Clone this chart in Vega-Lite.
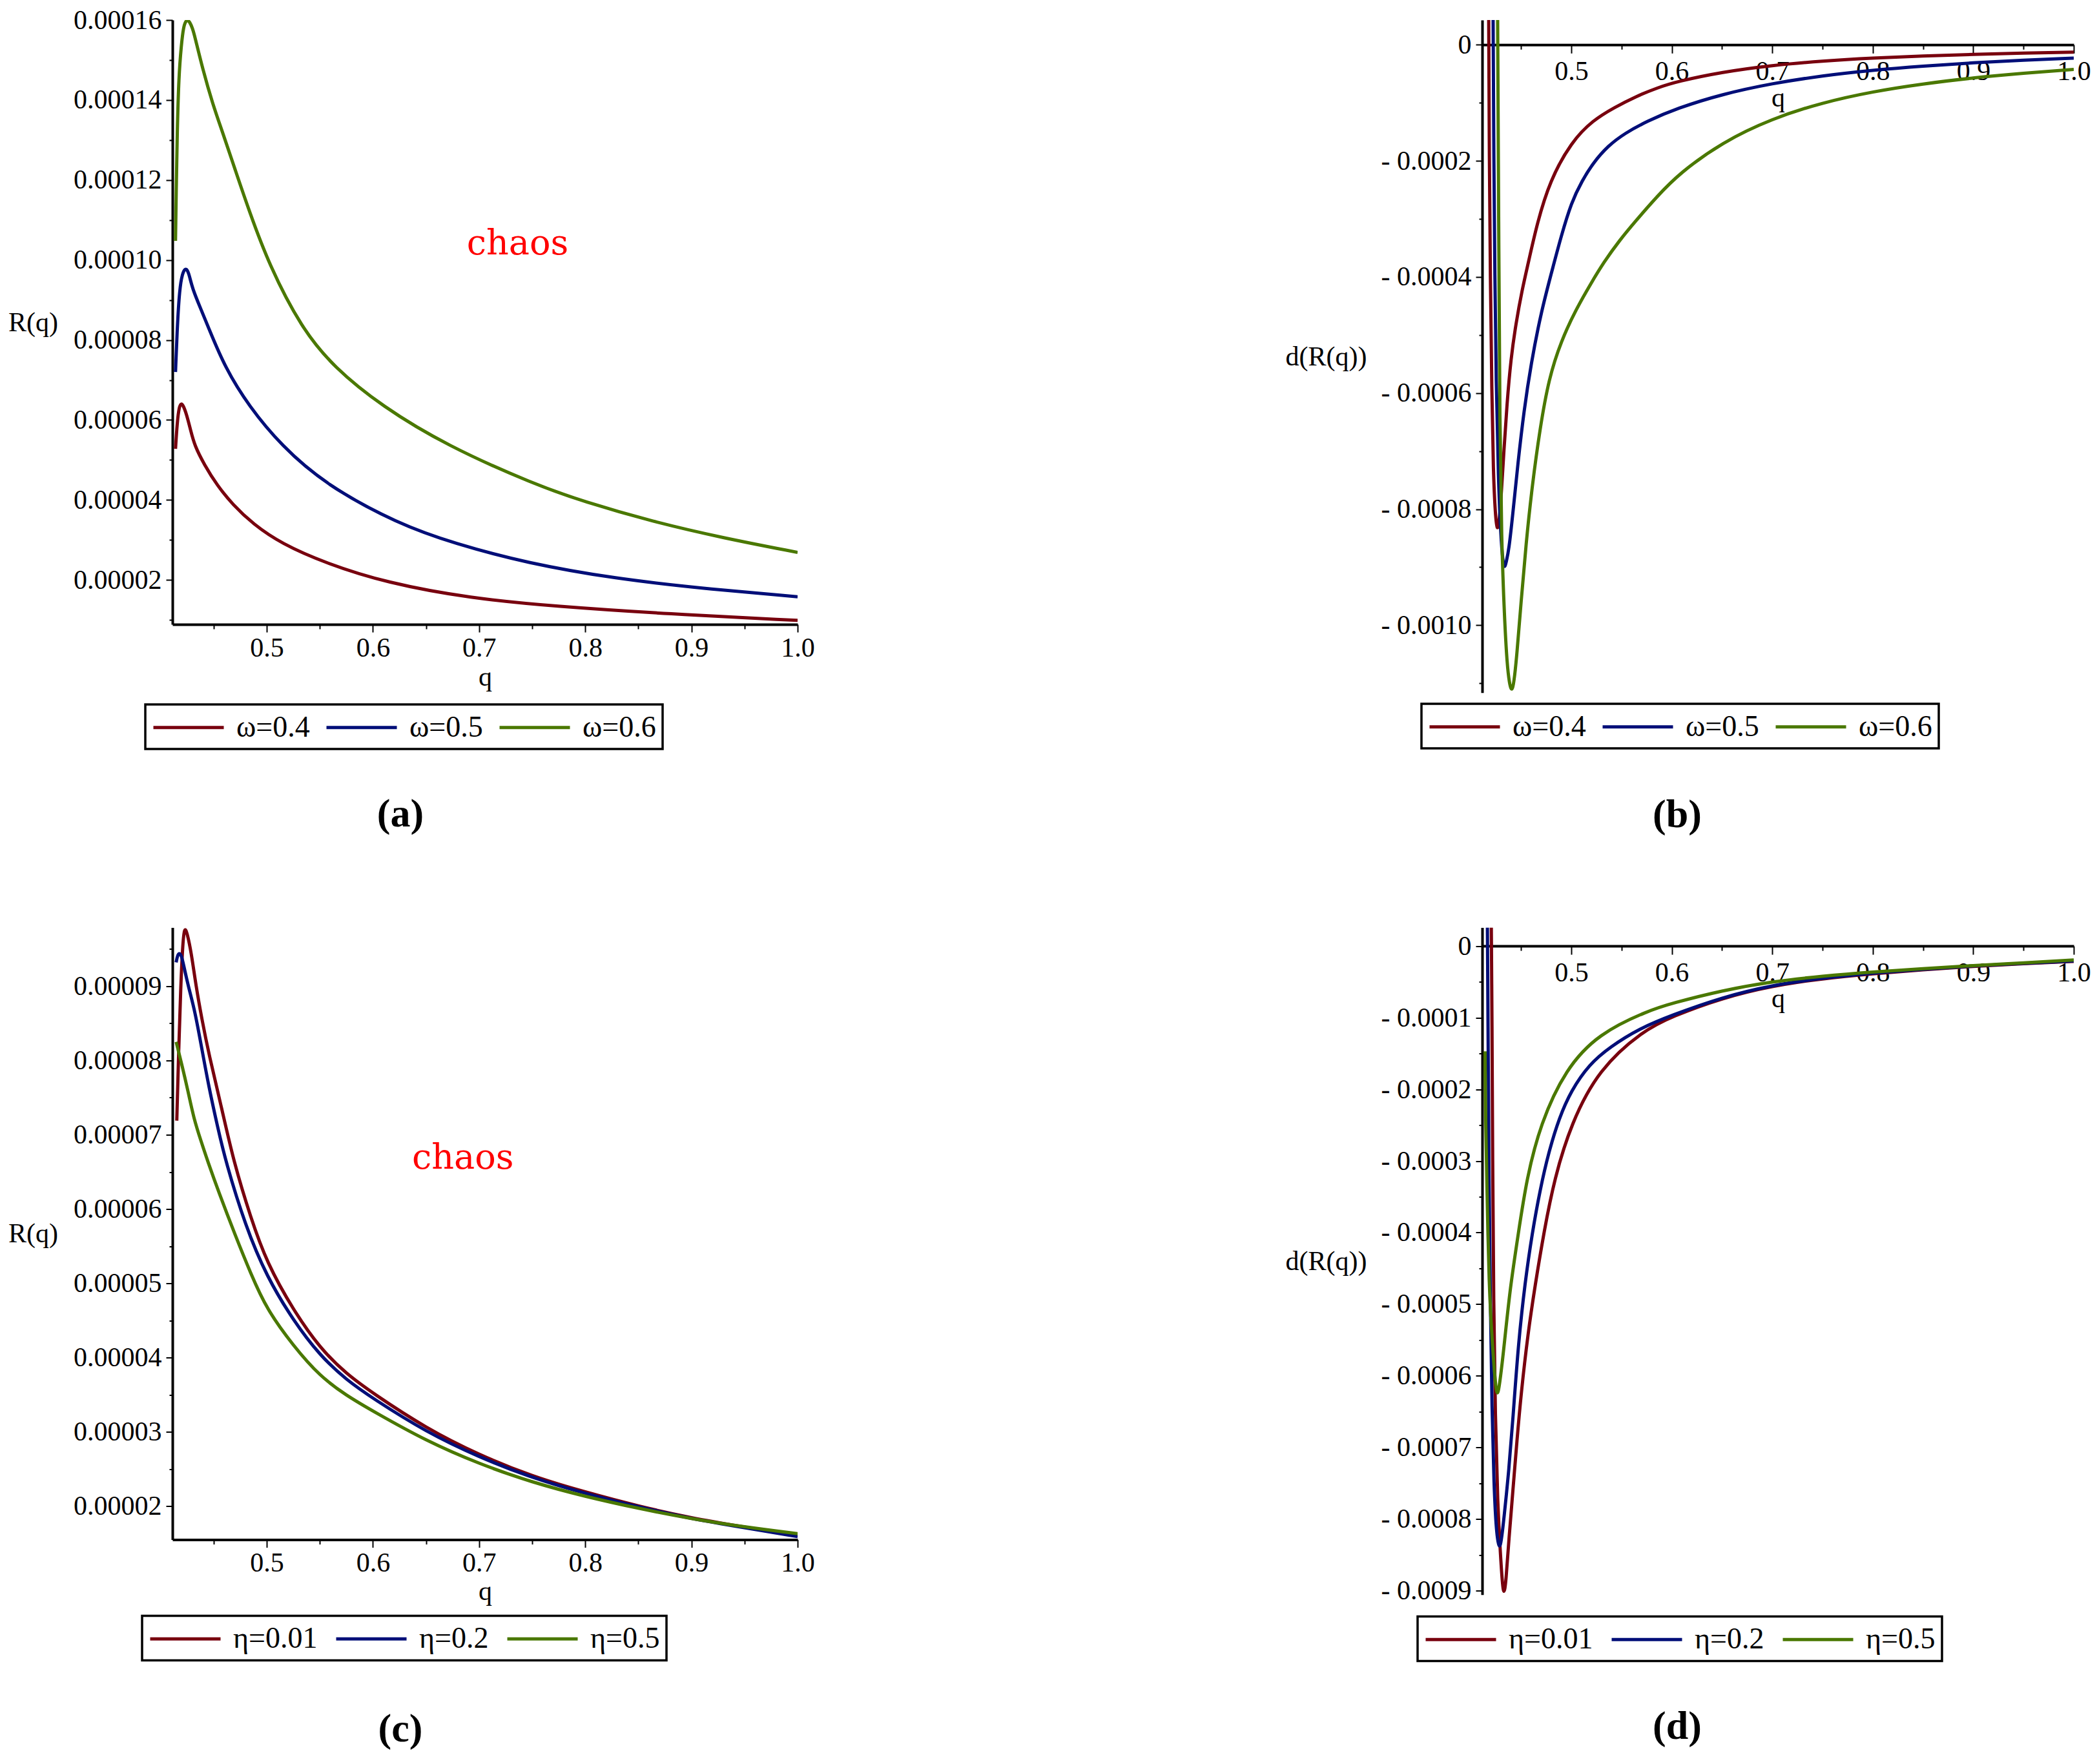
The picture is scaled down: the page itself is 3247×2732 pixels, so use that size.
{
  "$schema": "https://vega.github.io/schema/vega-lite/v6.json",
  "background": "white",
  "padding": {"left": 12, "top": 10, "right": 5, "bottom": 5},
  "datasets": {
    "a": [
      {"q": 0.4141, "v": 0.0000528, "s": "ω=0.4"}, {"q": 0.4157, "v": 0.0000595, "s": "ω=0.4"},
      {"q": 0.4176, "v": 0.0000634, "s": "ω=0.4"}, {"q": 0.4195, "v": 0.0000642, "s": "ω=0.4"},
      {"q": 0.4214, "v": 0.0000636, "s": "ω=0.4"}, {"q": 0.4244, "v": 0.0000615, "s": "ω=0.4"},
      {"q": 0.4282, "v": 0.0000576, "s": "ω=0.4"}, {"q": 0.432, "v": 0.0000536, "s": "ω=0.4"},
      {"q": 0.4415, "v": 0.0000487, "s": "ω=0.4"}, {"q": 0.4529, "v": 0.0000438, "s": "ω=0.4"},
      {"q": 0.4681, "v": 0.0000388, "s": "ω=0.4"}, {"q": 0.4871, "v": 0.000034, "s": "ω=0.4"},
      {"q": 0.5137, "v": 0.0000291, "s": "ω=0.4"}, {"q": 0.5555, "v": 0.0000242, "s": "ω=0.4"},
      {"q": 0.6125, "v": 0.0000193, "s": "ω=0.4"}, {"q": 0.6922, "v": 0.0000154, "s": "ω=0.4"},
      {"q": 0.772, "v": 0.0000134, "s": "ω=0.4"}, {"q": 0.8784, "v": 0.0000115, "s": "ω=0.4"},
      {"q": 1.0, "v": 0.0000099, "s": "ω=0.4"},
      {"q": 0.4141, "v": 0.000072, "s": "ω=0.5"}, {"q": 0.4157, "v": 0.000083, "s": "ω=0.5"},
      {"q": 0.4179, "v": 0.0000928, "s": "ω=0.5"}, {"q": 0.4206, "v": 0.0000967, "s": "ω=0.5"},
      {"q": 0.4233, "v": 0.0000979, "s": "ω=0.5"}, {"q": 0.4252, "v": 0.0000975, "s": "ω=0.5"},
      {"q": 0.4271, "v": 0.0000962, "s": "ω=0.5"}, {"q": 0.4301, "v": 0.0000928, "s": "ω=0.5"},
      {"q": 0.4377, "v": 0.0000879, "s": "ω=0.5"}, {"q": 0.4453, "v": 0.000083, "s": "ω=0.5"},
      {"q": 0.4605, "v": 0.0000732, "s": "ω=0.5"}, {"q": 0.4833, "v": 0.0000634, "s": "ω=0.5"},
      {"q": 0.5137, "v": 0.0000536, "s": "ω=0.5"}, {"q": 0.5555, "v": 0.0000438, "s": "ω=0.5"},
      {"q": 0.6239, "v": 0.000034, "s": "ω=0.5"}, {"q": 0.677, "v": 0.0000291, "s": "ω=0.5"},
      {"q": 0.7454, "v": 0.0000242, "s": "ω=0.5"}, {"q": 0.829, "v": 0.0000203, "s": "ω=0.5"},
      {"q": 0.91, "v": 0.0000179, "s": "ω=0.5"}, {"q": 1.0, "v": 0.0000158, "s": "ω=0.5"},
      {"q": 0.4141, "v": 0.0001048, "s": "ω=0.6"}, {"q": 0.4148, "v": 0.000118, "s": "ω=0.6"},
      {"q": 0.4157, "v": 0.000132, "s": "ω=0.6"}, {"q": 0.4172, "v": 0.000146, "s": "ω=0.6"},
      {"q": 0.4195, "v": 0.0001536, "s": "ω=0.6"}, {"q": 0.4217, "v": 0.0001585, "s": "ω=0.6"},
      {"q": 0.424, "v": 0.0001598, "s": "ω=0.6"}, {"q": 0.4255, "v": 0.00016, "s": "ω=0.6"},
      {"q": 0.4275, "v": 0.0001595, "s": "ω=0.6"}, {"q": 0.43, "v": 0.000158, "s": "ω=0.6"},
      {"q": 0.432, "v": 0.0001562, "s": "ω=0.6"}, {"q": 0.4396, "v": 0.0001478, "s": "ω=0.6"},
      {"q": 0.4491, "v": 0.000139, "s": "ω=0.6"}, {"q": 0.4586, "v": 0.0001318, "s": "ω=0.6"},
      {"q": 0.471, "v": 0.000122, "s": "ω=0.6"}, {"q": 0.4833, "v": 0.0001124, "s": "ω=0.6"},
      {"q": 0.5023, "v": 0.0000987, "s": "ω=0.6"}, {"q": 0.5327, "v": 0.000083, "s": "ω=0.6"},
      {"q": 0.5631, "v": 0.0000732, "s": "ω=0.6"}, {"q": 0.6087, "v": 0.0000634, "s": "ω=0.6"},
      {"q": 0.6695, "v": 0.0000536, "s": "ω=0.6"}, {"q": 0.753, "v": 0.0000438, "s": "ω=0.6"},
      {"q": 0.7986, "v": 0.0000396, "s": "ω=0.6"}, {"q": 0.8632, "v": 0.0000346, "s": "ω=0.6"},
      {"q": 0.93, "v": 0.0000305, "s": "ω=0.6"}, {"q": 1.0, "v": 0.0000269, "s": "ω=0.6"}
    ],
    "b": [
      {"q": 0.4179, "v": 0.0000426, "s": "ω=0.4"}, {"q": 0.4185, "v": -0.0002, "s": "ω=0.4"},
      {"q": 0.4195, "v": -0.0004, "s": "ω=0.4"}, {"q": 0.421, "v": -0.0006, "s": "ω=0.4"},
      {"q": 0.4225, "v": -0.00074, "s": "ω=0.4"}, {"q": 0.4245, "v": -0.00081, "s": "ω=0.4"},
      {"q": 0.4264, "v": -0.00084, "s": "ω=0.4"}, {"q": 0.4285, "v": -0.00082, "s": "ω=0.4"},
      {"q": 0.4306, "v": -0.00077, "s": "ω=0.4"}, {"q": 0.433, "v": -0.0007, "s": "ω=0.4"},
      {"q": 0.436, "v": -0.00062, "s": "ω=0.4"}, {"q": 0.44, "v": -0.00054, "s": "ω=0.4"},
      {"q": 0.445, "v": -0.00048, "s": "ω=0.4"}, {"q": 0.451, "v": -0.000423, "s": "ω=0.4"},
      {"q": 0.4574, "v": -0.000375, "s": "ω=0.4"}, {"q": 0.466, "v": -0.000308, "s": "ω=0.4"},
      {"q": 0.4788, "v": -0.000234, "s": "ω=0.4"}, {"q": 0.5002, "v": -0.000167, "s": "ω=0.4"},
      {"q": 0.5216, "v": -0.00013, "s": "ω=0.4"}, {"q": 0.543, "v": -0.000108, "s": "ω=0.4"},
      {"q": 0.5644, "v": -0.000089, "s": "ω=0.4"}, {"q": 0.5859, "v": -0.000074, "s": "ω=0.4"},
      {"q": 0.6051, "v": -0.0000634, "s": "ω=0.4"}, {"q": 0.65, "v": -0.000047, "s": "ω=0.4"},
      {"q": 0.7, "v": -0.0000354, "s": "ω=0.4"}, {"q": 0.75, "v": -0.000028, "s": "ω=0.4"},
      {"q": 0.8, "v": -0.0000229, "s": "ω=0.4"}, {"q": 0.85, "v": -0.0000192, "s": "ω=0.4"},
      {"q": 0.9, "v": -0.0000165, "s": "ω=0.4"}, {"q": 0.95, "v": -0.0000143, "s": "ω=0.4"},
      {"q": 1.0, "v": -0.0000126, "s": "ω=0.4"},
      {"q": 0.4223, "v": 0.0000426, "s": "ω=0.5"}, {"q": 0.423, "v": -0.0002, "s": "ω=0.5"},
      {"q": 0.424, "v": -0.0004, "s": "ω=0.5"}, {"q": 0.4253, "v": -0.00058, "s": "ω=0.5"},
      {"q": 0.4275, "v": -0.00075, "s": "ω=0.5"}, {"q": 0.43, "v": -0.00085, "s": "ω=0.5"},
      {"q": 0.432, "v": -0.00089, "s": "ω=0.5"}, {"q": 0.4336, "v": -0.000903, "s": "ω=0.5"},
      {"q": 0.4355, "v": -0.00089, "s": "ω=0.5"}, {"q": 0.438, "v": -0.00087, "s": "ω=0.5"},
      {"q": 0.4418, "v": -0.00081, "s": "ω=0.5"}, {"q": 0.447, "v": -0.00072, "s": "ω=0.5"},
      {"q": 0.453, "v": -0.00063, "s": "ω=0.5"}, {"q": 0.46, "v": -0.00055, "s": "ω=0.5"},
      {"q": 0.47, "v": -0.00046, "s": "ω=0.5"}, {"q": 0.4831, "v": -0.000375, "s": "ω=0.5"},
      {"q": 0.4895, "v": -0.000333, "s": "ω=0.5"}, {"q": 0.5002, "v": -0.000271, "s": "ω=0.5"},
      {"q": 0.5109, "v": -0.000234, "s": "ω=0.5"}, {"q": 0.5216, "v": -0.000204, "s": "ω=0.5"},
      {"q": 0.5366, "v": -0.000174, "s": "ω=0.5"}, {"q": 0.5538, "v": -0.000152, "s": "ω=0.5"},
      {"q": 0.5751, "v": -0.000132, "s": "ω=0.5"}, {"q": 0.6051, "v": -0.0001095, "s": "ω=0.5"},
      {"q": 0.65, "v": -0.0000852, "s": "ω=0.5"}, {"q": 0.7, "v": -0.0000665, "s": "ω=0.5"},
      {"q": 0.75, "v": -0.0000533, "s": "ω=0.5"}, {"q": 0.8, "v": -0.0000438, "s": "ω=0.5"},
      {"q": 0.85, "v": -0.0000367, "s": "ω=0.5"}, {"q": 0.9, "v": -0.000031, "s": "ω=0.5"},
      {"q": 0.95, "v": -0.0000265, "s": "ω=0.5"}, {"q": 1.0, "v": -0.000023, "s": "ω=0.5"},
      {"q": 0.4268, "v": 0.0000426, "s": "ω=0.6"}, {"q": 0.4278, "v": -0.0003, "s": "ω=0.6"},
      {"q": 0.429, "v": -0.00067, "s": "ω=0.6"}, {"q": 0.4306, "v": -0.00085, "s": "ω=0.6"},
      {"q": 0.4336, "v": -0.00099, "s": "ω=0.6"}, {"q": 0.4363, "v": -0.00107, "s": "ω=0.6"},
      {"q": 0.4385, "v": -0.0011, "s": "ω=0.6"}, {"q": 0.4407, "v": -0.001115, "s": "ω=0.6"},
      {"q": 0.443, "v": -0.0011, "s": "ω=0.6"}, {"q": 0.446, "v": -0.00105, "s": "ω=0.6"},
      {"q": 0.4501, "v": -0.00096, "s": "ω=0.6"}, {"q": 0.455, "v": -0.00086, "s": "ω=0.6"},
      {"q": 0.4611, "v": -0.00076, "s": "ω=0.6"}, {"q": 0.469, "v": -0.00066, "s": "ω=0.6"},
      {"q": 0.4777, "v": -0.000575, "s": "ω=0.6"}, {"q": 0.49, "v": -0.00051, "s": "ω=0.6"},
      {"q": 0.505, "v": -0.000455, "s": "ω=0.6"}, {"q": 0.52, "v": -0.00041, "s": "ω=0.6"},
      {"q": 0.5323, "v": -0.000375, "s": "ω=0.6"}, {"q": 0.548, "v": -0.000337, "s": "ω=0.6"},
      {"q": 0.5644, "v": -0.000303, "s": "ω=0.6"}, {"q": 0.585, "v": -0.000262, "s": "ω=0.6"},
      {"q": 0.6073, "v": -0.000222, "s": "ω=0.6"}, {"q": 0.65, "v": -0.000168, "s": "ω=0.6"},
      {"q": 0.7, "v": -0.000127, "s": "ω=0.6"}, {"q": 0.75, "v": -0.0000995, "s": "ω=0.6"},
      {"q": 0.8, "v": -0.0000806, "s": "ω=0.6"}, {"q": 0.85, "v": -0.0000672, "s": "ω=0.6"},
      {"q": 0.9, "v": -0.0000569, "s": "ω=0.6"}, {"q": 0.95, "v": -0.0000489, "s": "ω=0.6"},
      {"q": 1.0, "v": -0.0000426, "s": "ω=0.6"}
    ],
    "c": [
      {"q": 0.4153, "v": 0.0000719, "s": "η=0.01"}, {"q": 0.417, "v": 0.000081, "s": "η=0.01"},
      {"q": 0.419, "v": 0.00009, "s": "η=0.01"}, {"q": 0.421, "v": 0.000096, "s": "η=0.01"},
      {"q": 0.4227, "v": 0.000098, "s": "η=0.01"}, {"q": 0.425, "v": 0.0000972, "s": "η=0.01"},
      {"q": 0.429, "v": 0.0000945, "s": "η=0.01"}, {"q": 0.4333, "v": 0.0000901, "s": "η=0.01"},
      {"q": 0.439, "v": 0.0000855, "s": "η=0.01"}, {"q": 0.4454, "v": 0.0000809, "s": "η=0.01"},
      {"q": 0.4576, "v": 0.0000736, "s": "η=0.01"}, {"q": 0.4688, "v": 0.0000664, "s": "η=0.01"},
      {"q": 0.485, "v": 0.0000588, "s": "η=0.01"}, {"q": 0.5, "v": 0.0000528, "s": "η=0.01"},
      {"q": 0.525, "v": 0.0000464, "s": "η=0.01"}, {"q": 0.55, "v": 0.0000413, "s": "η=0.01"},
      {"q": 0.575, "v": 0.0000378, "s": "η=0.01"}, {"q": 0.6, "v": 0.0000352, "s": "η=0.01"},
      {"q": 0.65, "v": 0.0000305, "s": "η=0.01"}, {"q": 0.7, "v": 0.0000269, "s": "η=0.01"},
      {"q": 0.75, "v": 0.000024, "s": "η=0.01"}, {"q": 0.8, "v": 0.0000219, "s": "η=0.01"},
      {"q": 0.85, "v": 0.00002, "s": "η=0.01"}, {"q": 0.9, "v": 0.0000184, "s": "η=0.01"},
      {"q": 0.95, "v": 0.0000172, "s": "η=0.01"}, {"q": 1.0, "v": 0.000016, "s": "η=0.01"},
      {"q": 0.4147, "v": 0.0000932, "s": "η=0.2"}, {"q": 0.416, "v": 0.0000942, "s": "η=0.2"},
      {"q": 0.4181, "v": 0.0000945, "s": "η=0.2"}, {"q": 0.42, "v": 0.000094, "s": "η=0.2"},
      {"q": 0.423, "v": 0.000092, "s": "η=0.2"}, {"q": 0.427, "v": 0.0000895, "s": "η=0.2"},
      {"q": 0.4323, "v": 0.0000867, "s": "η=0.2"}, {"q": 0.439, "v": 0.0000815, "s": "η=0.2"},
      {"q": 0.4454, "v": 0.0000765, "s": "η=0.2"}, {"q": 0.4535, "v": 0.0000712, "s": "η=0.2"},
      {"q": 0.4613, "v": 0.0000664, "s": "η=0.2"}, {"q": 0.48, "v": 0.0000577, "s": "η=0.2"},
      {"q": 0.5, "v": 0.0000509, "s": "η=0.2"}, {"q": 0.525, "v": 0.000045, "s": "η=0.2"},
      {"q": 0.55, "v": 0.0000403, "s": "η=0.2"}, {"q": 0.575, "v": 0.000037, "s": "η=0.2"},
      {"q": 0.6, "v": 0.0000345, "s": "η=0.2"}, {"q": 0.65, "v": 0.00003, "s": "η=0.2"},
      {"q": 0.7, "v": 0.0000266, "s": "η=0.2"}, {"q": 0.75, "v": 0.0000238, "s": "η=0.2"},
      {"q": 0.8, "v": 0.0000217, "s": "η=0.2"}, {"q": 0.85, "v": 0.0000199, "s": "η=0.2"},
      {"q": 0.9, "v": 0.0000183, "s": "η=0.2"}, {"q": 0.95, "v": 0.0000171, "s": "η=0.2"},
      {"q": 1.0, "v": 0.0000159, "s": "η=0.2"},
      {"q": 0.4147, "v": 0.0000825, "s": "η=0.5"}, {"q": 0.42, "v": 0.0000795, "s": "η=0.5"},
      {"q": 0.426, "v": 0.0000758, "s": "η=0.5"}, {"q": 0.4313, "v": 0.0000722, "s": "η=0.5"},
      {"q": 0.438, "v": 0.0000692, "s": "η=0.5"}, {"q": 0.4445, "v": 0.0000664, "s": "η=0.5"},
      {"q": 0.455, "v": 0.0000622, "s": "η=0.5"}, {"q": 0.47, "v": 0.0000566, "s": "η=0.5"},
      {"q": 0.485, "v": 0.0000513, "s": "η=0.5"}, {"q": 0.5, "v": 0.0000465, "s": "η=0.5"},
      {"q": 0.525, "v": 0.0000416, "s": "η=0.5"}, {"q": 0.55, "v": 0.0000375, "s": "η=0.5"},
      {"q": 0.575, "v": 0.0000349, "s": "η=0.5"}, {"q": 0.6, "v": 0.0000328, "s": "η=0.5"},
      {"q": 0.65, "v": 0.0000288, "s": "η=0.5"}, {"q": 0.7, "v": 0.0000257, "s": "η=0.5"},
      {"q": 0.75, "v": 0.0000232, "s": "η=0.5"}, {"q": 0.8, "v": 0.0000213, "s": "η=0.5"},
      {"q": 0.85, "v": 0.0000197, "s": "η=0.5"}, {"q": 0.9, "v": 0.0000183, "s": "η=0.5"},
      {"q": 0.95, "v": 0.0000172, "s": "η=0.5"}, {"q": 1.0, "v": 0.0000163, "s": "η=0.5"}
    ],
    "d": [
      {"q": 0.4205, "v": 0.0000258, "s": "η=0.01"}, {"q": 0.4212, "v": -0.0001, "s": "η=0.01"},
      {"q": 0.4218, "v": -0.0003, "s": "η=0.01"}, {"q": 0.4228, "v": -0.0005, "s": "η=0.01"},
      {"q": 0.4245, "v": -0.00066, "s": "η=0.01"}, {"q": 0.4268, "v": -0.00078, "s": "η=0.01"},
      {"q": 0.4296, "v": -0.00085, "s": "η=0.01"}, {"q": 0.4315, "v": -0.00089, "s": "η=0.01"},
      {"q": 0.433, "v": -0.000906, "s": "η=0.01"}, {"q": 0.435, "v": -0.00089, "s": "η=0.01"},
      {"q": 0.4381, "v": -0.000825, "s": "η=0.01"}, {"q": 0.442, "v": -0.00076, "s": "η=0.01"},
      {"q": 0.446, "v": -0.00069, "s": "η=0.01"}, {"q": 0.4501, "v": -0.000625, "s": "η=0.01"},
      {"q": 0.457, "v": -0.00054, "s": "η=0.01"}, {"q": 0.4639, "v": -0.000475, "s": "η=0.01"},
      {"q": 0.473, "v": -0.000398, "s": "η=0.01"}, {"q": 0.4832, "v": -0.000325, "s": "η=0.01"},
      {"q": 0.4998, "v": -0.000248, "s": "η=0.01"}, {"q": 0.5274, "v": -0.000172, "s": "η=0.01"},
      {"q": 0.5715, "v": -0.000118, "s": "η=0.01"}, {"q": 0.6, "v": -0.0000985, "s": "η=0.01"},
      {"q": 0.65, "v": -0.0000725, "s": "η=0.01"}, {"q": 0.7, "v": -0.0000555, "s": "η=0.01"},
      {"q": 0.75, "v": -0.0000455, "s": "η=0.01"}, {"q": 0.8, "v": -0.0000388, "s": "η=0.01"},
      {"q": 0.85, "v": -0.000033, "s": "η=0.01"}, {"q": 0.9, "v": -0.0000283, "s": "η=0.01"},
      {"q": 0.95, "v": -0.0000246, "s": "η=0.01"}, {"q": 1.0, "v": -0.0000214, "s": "η=0.01"},
      {"q": 0.4166, "v": 0.0000258, "s": "η=0.2"}, {"q": 0.4172, "v": -0.0001, "s": "η=0.2"},
      {"q": 0.418, "v": -0.0003, "s": "η=0.2"}, {"q": 0.4195, "v": -0.0005, "s": "η=0.2"},
      {"q": 0.4212, "v": -0.00065, "s": "η=0.2"}, {"q": 0.4231, "v": -0.000753, "s": "η=0.2"},
      {"q": 0.4255, "v": -0.00082, "s": "η=0.2"}, {"q": 0.4285, "v": -0.000843, "s": "η=0.2"},
      {"q": 0.4305, "v": -0.00083, "s": "η=0.2"}, {"q": 0.433, "v": -0.0008, "s": "η=0.2"},
      {"q": 0.4381, "v": -0.00073, "s": "η=0.2"}, {"q": 0.442, "v": -0.00066, "s": "η=0.2"},
      {"q": 0.4474, "v": -0.000554, "s": "η=0.2"}, {"q": 0.454, "v": -0.00047, "s": "η=0.2"},
      {"q": 0.4611, "v": -0.000401, "s": "η=0.2"}, {"q": 0.469, "v": -0.00034, "s": "η=0.2"},
      {"q": 0.4777, "v": -0.000287, "s": "η=0.2"}, {"q": 0.488, "v": -0.00024, "s": "η=0.2"},
      {"q": 0.4998, "v": -0.000202, "s": "η=0.2"}, {"q": 0.518, "v": -0.000165, "s": "η=0.2"},
      {"q": 0.5384, "v": -0.000141, "s": "η=0.2"}, {"q": 0.568, "v": -0.000115, "s": "η=0.2"},
      {"q": 0.5991, "v": -0.000097, "s": "η=0.2"}, {"q": 0.65, "v": -0.0000715, "s": "η=0.2"},
      {"q": 0.7, "v": -0.0000545, "s": "η=0.2"}, {"q": 0.75, "v": -0.0000448, "s": "η=0.2"},
      {"q": 0.8, "v": -0.0000378, "s": "η=0.2"}, {"q": 0.85, "v": -0.0000323, "s": "η=0.2"},
      {"q": 0.9, "v": -0.0000278, "s": "η=0.2"}, {"q": 0.95, "v": -0.000024, "s": "η=0.2"},
      {"q": 1.0, "v": -0.0000209, "s": "η=0.2"},
      {"q": 0.4143, "v": -0.000147, "s": "η=0.5"}, {"q": 0.4146, "v": -0.0002, "s": "η=0.5"},
      {"q": 0.4149, "v": -0.000248, "s": "η=0.5"}, {"q": 0.416, "v": -0.000325, "s": "η=0.5"},
      {"q": 0.4182, "v": -0.000478, "s": "η=0.5"}, {"q": 0.4215, "v": -0.000554, "s": "η=0.5"},
      {"q": 0.4243, "v": -0.000608, "s": "η=0.5"}, {"q": 0.4264, "v": -0.000631, "s": "η=0.5"},
      {"q": 0.429, "v": -0.00061, "s": "η=0.5"}, {"q": 0.4336, "v": -0.000554, "s": "η=0.5"},
      {"q": 0.4391, "v": -0.000478, "s": "η=0.5"}, {"q": 0.4474, "v": -0.000401, "s": "η=0.5"},
      {"q": 0.4556, "v": -0.000325, "s": "η=0.5"}, {"q": 0.4694, "v": -0.000248, "s": "η=0.5"},
      {"q": 0.4942, "v": -0.000172, "s": "η=0.5"}, {"q": 0.5274, "v": -0.000122, "s": "η=0.5"},
      {"q": 0.577, "v": -0.00009, "s": "η=0.5"}, {"q": 0.6, "v": -0.00008, "s": "η=0.5"},
      {"q": 0.65, "v": -0.000062, "s": "η=0.5"}, {"q": 0.7, "v": -0.0000495, "s": "η=0.5"},
      {"q": 0.75, "v": -0.000042, "s": "η=0.5"}, {"q": 0.8, "v": -0.0000362, "s": "η=0.5"},
      {"q": 0.85, "v": -0.0000315, "s": "η=0.5"}, {"q": 0.9, "v": -0.0000272, "s": "η=0.5"},
      {"q": 0.95, "v": -0.0000235, "s": "η=0.5"}, {"q": 1.0, "v": -0.0000195, "s": "η=0.5"}
    ]
  },
  "columns": 2,
  "bounds": "flush",
  "spacing": {"row": 363.5, "column": 1060},
  "resolve": {"scale": {"color": "independent"}, "legend": {"color": "independent"}},
  "concat": [
    {
      "width": 968,
      "height": 936,
      "title": {"text": "(a)", "orient": "bottom", "anchor": "middle", "frame": "group", "dx": -131, "offset": 69},
      "encoding": {
        "x": {"field": "q", "type": "quantitative",
          "scale": {"domain": [0.4112, 1.0], "nice": false, "zero": false},
          "axis": {"values": [0.45, 0.5, 0.55, 0.6, 0.65, 0.7, 0.75, 0.8, 0.85, 0.9, 0.95, 1.0],
            "labelExpr": "abs(datum.value*10 - round(datum.value*10)) < 0.01 ? format(datum.value, '.1f') : ''",
            "tickSize": {"condition": {"test": "abs(datum.value*10 - round(datum.value*10)) < 0.01", "value": 12}, "value": 7},
            "labelPadding": 4, "title": "q", "titleY": 94, "titleBaseline": "alphabetic"}},
        "y": {"field": "v", "type": "quantitative",
          "scale": {"domain": [0.0000089, 0.00016], "nice": false, "zero": false},
          "axis": {"values": [0.00001, 0.00002, 0.00003, 0.00004, 0.00005, 0.00006, 0.00007, 0.00008, 0.00009, 0.0001, 0.00011, 0.00012, 0.00013, 0.00014, 0.00015, 0.00016],
            "labelExpr": "round(datum.value*1e5) % 2 == 0 ? format(datum.value, '.5f') : ''",
            "tickSize": {"condition": {"test": "round(datum.value*1e5) % 2 == 0", "value": 10}, "value": 5},
            "labelPadding": 7, "title": "R(q)", "titleAngle": 0, "titleAlign": "center", "titleBaseline": "middle", "titleX": -216, "titleY": 468}}
      },
      "layer": [
        {
          "data": {"name": "a"},
          "mark": {"type": "line", "strokeWidth": 5, "clip": true, "interpolate": "basis"},
          "encoding": {
            "color": {"field": "s", "type": "nominal",
              "scale": {"domain": ["ω=0.4", "ω=0.5", "ω=0.6"], "range": ["#78000E", "#000E78", "#4A7800"]},
              "legend": {"orient": "none", "legendX": -42, "legendY": 1060, "direction": "horizontal", "title": null,
                "strokeColor": "black", "padding": 10, "symbolType": "M-1,0H3.74", "symbolSize": 2116,
                "symbolStrokeWidth": 5, "labelFont": "Liberation Serif", "labelFontSize": 46, "labelColor": "black",
                "labelOffset": 80, "columnPadding": 15, "labelLimit": 0,
                "encode": {"legend": {"update": {"strokeWidth": {"value": 3.5}}}}}}
          }
        },
        {
          "data": {"values": [{"q": 0.7363, "v": 0.0001014, "t": "chaos"}]},
          "mark": {"type": "text", "font": "DejaVu Serif", "fontSize": 54, "color": "#FF0000", "align": "center", "baseline": "alphabetic"},
          "encoding": {"text": {"field": "t"}}
        }
      ]
    },
    {
      "width": 916,
      "height": 1041.7,
      "title": {"text": "(b)", "orient": "bottom", "anchor": "middle", "frame": "group", "dx": -156, "offset": 71},
      "data": {"name": "b"},
      "mark": {"type": "line", "strokeWidth": 5, "clip": true, "interpolate": "basis"},
      "encoding": {
        "x": {"field": "q", "type": "quantitative",
          "scale": {"domain": [0.4114, 1.0], "nice": false, "zero": false},
          "axis": {"orient": "bottom", "offset": -1003.4,
            "values": [0.45, 0.5, 0.55, 0.6, 0.65, 0.7, 0.75, 0.8, 0.85, 0.9, 0.95, 1.0],
            "labelExpr": "abs(datum.value*10 - round(datum.value*10)) < 0.01 ? format(datum.value, '.1f') : ''",
            "tickSize": {"condition": {"test": "abs(datum.value*10 - round(datum.value*10)) < 0.01", "value": 13}, "value": 7},
            "labelPadding": 8, "title": "q", "titleY": 95, "titleBaseline": "alphabetic"}},
        "y": {"field": "v", "type": "quantitative",
          "scale": {"domain": [-0.0011161, 0.0000426], "nice": false, "zero": false},
          "axis": {"values": [-0.0011, -0.001, -0.0009, -0.0008, -0.0007, -0.0006, -0.0005, -0.0004, -0.0003, -0.0002, -0.0001, 0],
            "labelExpr": "datum.value == 0 ? '0' : (round(datum.value*1e4) % 2 == 0 ? '- ' + format(-datum.value, '.4f') : '')",
            "tickSize": {"condition": {"test": "round(datum.value*1e4) % 2 == 0", "value": 10}, "value": 5},
            "labelPadding": 7, "title": "d(R(q))", "titleAngle": 0, "titleAlign": "center", "titleBaseline": "middle", "titleX": -242, "titleY": 521}},
        "color": {"field": "s", "type": "nominal",
          "scale": {"domain": ["ω=0.4", "ω=0.5", "ω=0.6"], "range": ["#78000E", "#000E78", "#4A7800"]},
          "legend": {"orient": "none", "legendX": -94, "legendY": 1059, "direction": "horizontal", "title": null,
            "strokeColor": "black", "padding": 10, "symbolType": "M-1,0H3.74", "symbolSize": 2116,
            "symbolStrokeWidth": 5, "labelFont": "Liberation Serif", "labelFontSize": 46, "labelColor": "black",
            "labelOffset": 80, "columnPadding": 15, "labelLimit": 0,
            "encode": {"legend": {"update": {"strokeWidth": {"value": 3.5}}}}}}
      }
    },
    {
      "width": 968,
      "height": 948,
      "title": {"text": "(c)", "orient": "bottom", "anchor": "middle", "frame": "group", "dx": -131, "offset": 75},
      "encoding": {
        "x": {"field": "q", "type": "quantitative",
          "scale": {"domain": [0.4112, 1.0], "nice": false, "zero": false},
          "axis": {"values": [0.45, 0.5, 0.55, 0.6, 0.65, 0.7, 0.75, 0.8, 0.85, 0.9, 0.95, 1.0],
            "labelExpr": "abs(datum.value*10 - round(datum.value*10)) < 0.01 ? format(datum.value, '.1f') : ''",
            "tickSize": {"condition": {"test": "abs(datum.value*10 - round(datum.value*10)) < 0.01", "value": 12}, "value": 7},
            "labelPadding": 4, "title": "q", "titleY": 93, "titleBaseline": "alphabetic"}},
        "y": {"field": "v", "type": "quantitative",
          "scale": {"domain": [0.0000155, 0.0000979], "nice": false, "zero": false},
          "axis": {"values": [0.00002, 0.000025, 0.00003, 0.000035, 0.00004, 0.000045, 0.00005, 0.000055, 0.00006, 0.000065, 0.00007, 0.000075, 0.00008, 0.000085, 0.00009, 0.000095],
            "labelExpr": "round(datum.value*2e5) % 2 == 0 ? format(datum.value, '.5f') : ''",
            "tickSize": {"condition": {"test": "round(datum.value*2e5) % 2 == 0", "value": 10}, "value": 5},
            "labelPadding": 7, "title": "R(q)", "titleAngle": 0, "titleAlign": "center", "titleBaseline": "middle", "titleX": -216, "titleY": 474}}
      },
      "layer": [
        {
          "data": {"name": "c"},
          "mark": {"type": "line", "strokeWidth": 5, "clip": true, "interpolate": "basis"},
          "encoding": {
            "color": {"field": "s", "type": "nominal",
              "scale": {"domain": ["η=0.01", "η=0.2", "η=0.5"], "range": ["#78000E", "#000E78", "#4A7800"]},
              "legend": {"orient": "none", "legendX": -47, "legendY": 1066, "direction": "horizontal", "title": null,
                "strokeColor": "black", "padding": 10, "symbolType": "M-1,0H3.74", "symbolSize": 2116,
                "symbolStrokeWidth": 5, "labelFont": "Liberation Serif", "labelFontSize": 46, "labelColor": "black",
                "labelOffset": 80, "columnPadding": 18, "labelLimit": 0,
                "encode": {"legend": {"update": {"strokeWidth": {"value": 3.5}}}}}}
          }
        },
        {
          "data": {"values": [{"q": 0.6847, "v": 0.0000654, "t": "chaos"}]},
          "mark": {"type": "text", "font": "DejaVu Serif", "fontSize": 54, "color": "#FF0000", "align": "center", "baseline": "alphabetic"},
          "encoding": {"text": {"field": "t"}}
        }
      ]
    },
    {
      "width": 916,
      "height": 1033.3,
      "title": {"text": "(d)", "orient": "bottom", "anchor": "middle", "frame": "group", "dx": -156, "offset": 70},
      "data": {"name": "d"},
      "mark": {"type": "line", "strokeWidth": 5, "clip": true, "interpolate": "basis"},
      "encoding": {
        "x": {"field": "q", "type": "quantitative",
          "scale": {"domain": [0.4114, 1.0], "nice": false, "zero": false},
          "axis": {"orient": "bottom", "offset": -1004.7,
            "values": [0.45, 0.5, 0.55, 0.6, 0.65, 0.7, 0.75, 0.8, 0.85, 0.9, 0.95, 1.0],
            "labelExpr": "abs(datum.value*10 - round(datum.value*10)) < 0.01 ? format(datum.value, '.1f') : ''",
            "tickSize": {"condition": {"test": "abs(datum.value*10 - round(datum.value*10)) < 0.01", "value": 13}, "value": 7},
            "labelPadding": 8, "title": "q", "titleY": 94, "titleBaseline": "alphabetic"}},
        "y": {"field": "v", "type": "quantitative",
          "scale": {"domain": [-0.0009054, 0.0000258], "nice": false, "zero": false},
          "axis": {"values": [-0.0009, -0.00085, -0.0008, -0.00075, -0.0007, -0.00065, -0.0006, -0.00055, -0.0005, -0.00045, -0.0004, -0.00035, -0.0003, -0.00025, -0.0002, -0.00015, -0.0001, -0.00005, 0],
            "labelExpr": "datum.value == 0 ? '0' : (round(datum.value*2e4) % 2 == 0 ? '- ' + format(-datum.value, '.4f') : '')",
            "tickSize": {"condition": {"test": "round(datum.value*2e4) % 2 == 0", "value": 10}, "value": 5},
            "labelPadding": 7, "title": "d(R(q))", "titleAngle": 0, "titleAlign": "center", "titleBaseline": "middle", "titleX": -242, "titleY": 517}},
        "color": {"field": "s", "type": "nominal",
          "scale": {"domain": ["η=0.01", "η=0.2", "η=0.5"], "range": ["#78000E", "#000E78", "#4A7800"]},
          "legend": {"orient": "none", "legendX": -100, "legendY": 1067, "direction": "horizontal", "title": null,
            "strokeColor": "black", "padding": 10, "symbolType": "M-1,0H3.74", "symbolSize": 2116,
            "symbolStrokeWidth": 5, "labelFont": "Liberation Serif", "labelFontSize": 46, "labelColor": "black",
            "labelOffset": 80, "columnPadding": 18, "labelLimit": 0,
            "encode": {"legend": {"update": {"strokeWidth": {"value": 3.5}}}}}}
      }
    }
  ],
  "config": {
    "view": {"stroke": null},
    "axis": {"domainColor": "black", "domainWidth": 4, "tickColor": "black", "tickWidth": 2,
      "labelFont": "Liberation Serif", "labelFontSize": 42, "labelColor": "black",
      "titleFont": "Liberation Serif", "titleFontSize": 42, "titleFontWeight": "normal", "titleColor": "black",
      "grid": false, "labelFlush": false, "labelOverlap": false},
    "title": {"font": "Liberation Serif", "fontSize": 62, "fontWeight": "bold", "color": "black"}
  }
}
